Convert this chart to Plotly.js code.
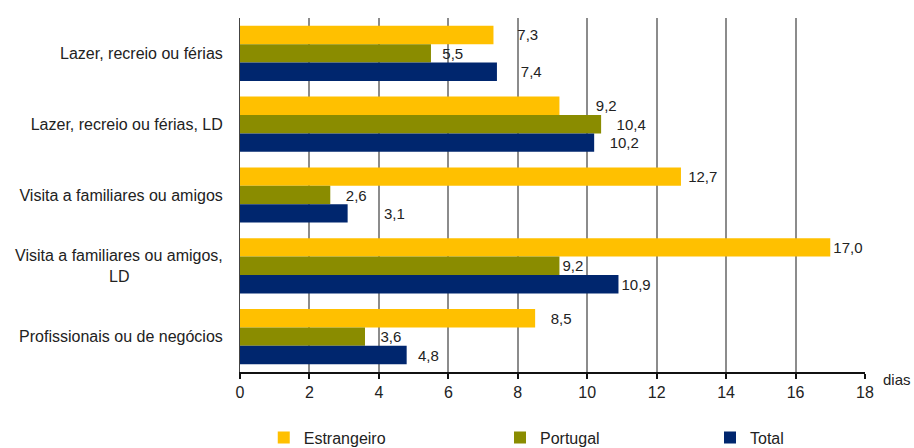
<!DOCTYPE html>
<html>
<head>
<meta charset="utf-8">
<script src="https://cdn.plot.ly/plotly-3.0.1.min.js"></script>
<style>
  html, body { margin: 0; padding: 0; background: #fff; }
  #chart { width: 914px; height: 448px; }
</style>
</head>
<body>
<div id="chart"></div>
<script>
// Duração média das viagens (dias) por motivo e destino
const categories = [
  "Lazer, recreio ou férias",
  "Lazer, recreio ou férias, LD",
  "Visita a familiares ou amigos",
  "Visita a familiares ou amigos,<br>LD" + "\u00a0".repeat(21),
  "Profissionais ou de negócios"
];
const estrangeiro = [7.3, 9.2, 12.7, 17.0, 8.5];
const portugal    = [5.5, 10.4, 2.6, 9.2, 3.6];
const total       = [7.4, 10.2, 3.1, 10.9, 4.8];
const xTicks = [0, 2, 4, 6, 8, 10, 12, 14, 16, 18];

// extra space (in non-breaking spaces) before each value label
const padEstrangeiro = [5, 8, 1, 0, 3];
const padPortugal    = [2, 3, 3, 0, 3];
const padTotal       = [5, 3, 8, 0, 2];

const family = "Liberation Sans, Arial, sans-serif";
const ink = "#222";

function series(name, values, pads, color, legendId) {
  return {
    type: "bar",
    orientation: "h",
    name: name,
    legend: legendId,
    y: categories,
    x: values,
    marker: { color: color, line: { width: 0 } },
    text: values,
    texttemplate: pads.map(n => "\u00a0".repeat(n) + "%{x:.1f}"),
    textposition: "outside",
    cliponaxis: false,
    textfont: { family: family, size: 15, color: ink },
    hoverinfo: "x+name"
  };
}

const data = [
  series("Estrangeiro", estrangeiro, padEstrangeiro, "#FFC000", "legend"),
  series("Portugal", portugal, padPortugal, "#8A8C00", "legend2"),
  series("Total", total, padTotal, "#00266E", "legend3")
];

// one legend box per series, spread along the bottom
function legendAt(x) {
  return {
    orientation: "h",
    x: x, xanchor: "left",
    y: -0.185, yanchor: "middle",
    itemwidth: 30,
    font: { family: family, size: 16, color: ink },
    bgcolor: "rgba(0,0,0,0)"
  };
}

const layout = {
  width: 914,
  height: 448,
  margin: { l: 240, r: 49, t: 18, b: 76, autoexpand: false },
  separators: ",.",
  font: { family: family, size: 15, color: ink },
  paper_bgcolor: "#fff",
  plot_bgcolor: "#fff",
  barmode: "group",
  bargap: 0.22,
  bargroupgap: 0,
  showlegend: true,
  legend: legendAt(0.038),
  legend2: legendAt(0.416),
  legend3: legendAt(0.752),
  xaxis: {
    range: [0, 18],
    tickvals: xTicks,
    ticktext: xTicks.map(String),
    showgrid: true,
    gridcolor: "#8c8c8c",
    gridwidth: 2,
    zeroline: false,
    showline: true,
    linecolor: "#111",
    linewidth: 2,
    ticks: "outside",
    ticklen: 5,
    tickwidth: 2,
    tickcolor: "#111",
    tickfont: { family: family, size: 16, color: ink },
    fixedrange: true
  },
  yaxis: {
    autorange: "reversed",
    showline: true,
    linecolor: "#444",
    linewidth: 1,
    showgrid: false,
    zeroline: false,
    ticks: "",
    ticklabelstandoff: 13,
    tickfont: { family: family, size: 16, color: ink },
    fixedrange: true
  },
  annotations: [{
    text: "dias",
    xref: "paper", yref: "paper",
    x: 1.0, y: 0, xanchor: "left", yanchor: "middle",
    xshift: 16, yshift: -7,
    showarrow: false,
    font: { family: family, size: 15, color: ink }
  }]
};

Plotly.newPlot("chart", data, layout, { displayModeBar: false, staticPlot: true });
</script>
</body>
</html>
